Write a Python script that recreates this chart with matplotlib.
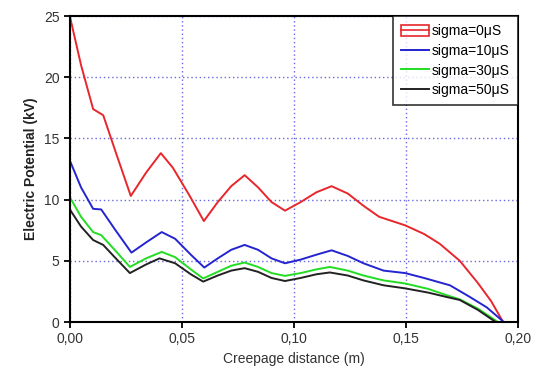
import matplotlib.pyplot as plt
from matplotlib.patches import Rectangle
from matplotlib.lines import Line2D
from matplotlib.ticker import FuncFormatter

plt.rcParams['font.family'] = ['Liberation Sans', 'DejaVu Sans']

# values (x in m, y in kV)
x_red = [0.0, 0.005, 0.0104, 0.0149, 0.021, 0.0272, 0.034, 0.0406, 0.046, 0.0535, 0.0598,
         0.066, 0.072, 0.078, 0.084, 0.090, 0.096, 0.103, 0.110, 0.1168, 0.124, 0.131,
         0.138, 0.1496, 0.158, 0.165, 0.174, 0.182, 0.188, 0.193]
y_red = [25.0, 21.0, 17.4, 16.9, 13.6, 10.3, 12.2, 13.8, 12.6, 10.3, 8.25,
         9.8, 11.1, 12.0, 11.0, 9.8, 9.1, 9.8, 10.6, 11.1, 10.5, 9.5,
         8.6, 7.9, 7.2, 6.4, 5.0, 3.2, 1.7, 0.1]

x_blue = [0.0, 0.005, 0.0104, 0.014, 0.020, 0.0275, 0.034, 0.041, 0.047, 0.054, 0.060,
          0.066, 0.072, 0.078, 0.084, 0.090, 0.096, 0.103, 0.110, 0.1168, 0.124, 0.131,
          0.140, 0.1496, 0.158, 0.1696, 0.178, 0.186, 0.193]
y_blue = [13.2, 11.0, 9.25, 9.2, 7.6, 5.67, 6.5, 7.35, 6.8, 5.5, 4.45,
          5.2, 5.9, 6.3, 5.9, 5.2, 4.8, 5.1, 5.5, 5.86, 5.4, 4.8,
          4.2, 4.0, 3.6, 3.0, 2.1, 1.2, 0.1]

x_green = [0.0, 0.005, 0.0104, 0.014, 0.020, 0.0268, 0.034, 0.041, 0.047, 0.054, 0.0595,
           0.066, 0.072, 0.078, 0.084, 0.090, 0.096, 0.103, 0.110, 0.116, 0.124, 0.131,
           0.140, 0.1496, 0.160, 0.168, 0.174, 0.182, 0.191]
y_green = [10.2, 8.6, 7.35, 7.1, 5.9, 4.5, 5.2, 5.73, 5.3, 4.3, 3.56,
           4.1, 4.6, 4.86, 4.5, 4.0, 3.77, 4.0, 4.3, 4.5, 4.2, 3.8,
           3.4, 3.15, 2.7, 2.2, 1.85, 1.1, 0.0]

x_black = [0.0, 0.005, 0.0104, 0.0149, 0.020, 0.0268, 0.034, 0.040, 0.047, 0.054, 0.0595,
           0.066, 0.072, 0.078, 0.084, 0.090, 0.096, 0.103, 0.110, 0.116, 0.124, 0.131,
           0.140, 0.1496, 0.160, 0.168, 0.174, 0.182, 0.190]
y_black = [9.2, 7.8, 6.7, 6.3, 5.3, 4.0, 4.7, 5.2, 4.8, 3.9, 3.3,
           3.8, 4.2, 4.4, 4.1, 3.6, 3.35, 3.6, 3.9, 4.05, 3.8, 3.4,
           3.0, 2.75, 2.4, 2.05, 1.8, 1.0, 0.0]

labels = ['sigma=0μS', 'sigma=10μS', 'sigma=30μS', 'sigma=50μS']
colors = ['#e8262b', '#2424d0', '#22dd22', '#222222']

fig = plt.figure(figsize=(5.33, 3.74), dpi=100)
ax = fig.add_axes([0.131, 0.139, 0.841, 0.818])

series = [(x_red, y_red), (x_blue, y_blue), (x_green, y_green), (x_black, y_black)]
for (xs, ys), c in zip(series, colors):
    ax.plot(xs, ys, color=c, linewidth=1.4)

ax.set_xlim(0, 0.20)
ax.set_ylim(0, 25)
ax.set_xticks([0, 0.05, 0.10, 0.15, 0.20])
ax.set_yticks([0, 5, 10, 15, 20, 25])
ax.xaxis.set_major_formatter(FuncFormatter(lambda v, p: f'{v:.2f}'.replace('.', ',')))
ax.grid(True, color='#6a6ae0', linestyle=(0, (1, 2)), linewidth=1.0)
ax.tick_params(direction='out', length=4, width=1.3, labelsize=10, labelcolor='#333333')
for s in ax.spines.values():
    s.set_linewidth(1.5)

ax.set_xlabel('Creepage distance (m)', fontsize=10, color='#333333')
ax.set_ylabel('Electric Potential (kV)', fontsize=10, color='#222222', fontweight='bold')

# legend: first entry drawn as a red box with a line through it
h0 = (Rectangle((0, 0), 1, 1, facecolor='none', edgecolor=colors[0], linewidth=1.2),
      Line2D([], [], color=colors[0], linewidth=1.2))
handles = [h0] + [Line2D([], [], color=c, linewidth=1.4) for c in colors[1:]]
leg = ax.legend(handles, labels, loc='upper right', fontsize=10, frameon=True, fancybox=False,
                borderaxespad=0, handlelength=2.0, handletextpad=0.2, labelspacing=0.4,
                borderpad=0.6, handleheight=0.9)
leg.get_frame().set_edgecolor('black')
leg.get_frame().set_linewidth(1.2)

fig.savefig('out.png')
